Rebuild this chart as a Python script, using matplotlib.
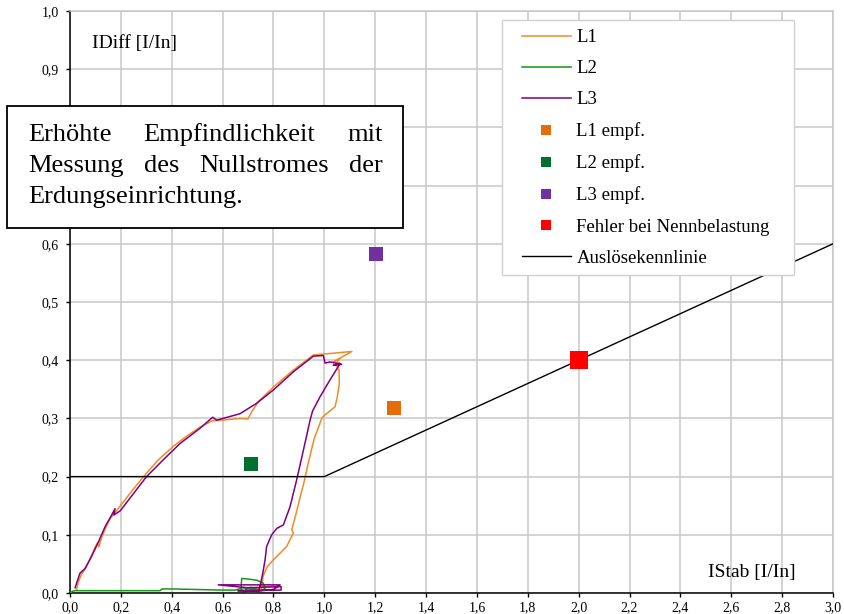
import numpy as np
import matplotlib.pyplot as plt
from matplotlib.lines import Line2D
from matplotlib.patches import Rectangle
from matplotlib.ticker import MultipleLocator, FuncFormatter

plt.rcParams['font.family'] = ['Liberation Serif', 'DejaVu Serif']

# Auslösekennlinie
kenn_x = [0.0, 1.0, 3.0]
kenn_y = [0.2, 0.2, 0.6]

# L1 (orange)
l1_x = [0.026, 0.032, 0.045, 0.062, 0.08, 0.1, 0.108, 0.114, 0.12, 0.14, 0.158, 0.17,
        0.2, 0.25, 0.301, 0.35, 0.406, 0.46, 0.511, 0.56, 0.6, 0.668, 0.699, 0.714,
        0.741, 0.8, 0.878, 0.957, 1.035, 1.108, 1.035, 1.06, 1.045, 1.058, 1.059,
        1.05, 1.042, 1.0, 0.99, 0.96, 0.935, 0.92, 0.905, 0.888, 0.872, 0.878, 0.852,
        0.8, 0.775, 0.76, 0.754, 0.75, 0.72, 0.80, 0.82, 0.76, 0.70]
l1_y = [0.006, 0.018, 0.032, 0.043, 0.06, 0.08, 0.086, 0.079, 0.09, 0.112, 0.128, 0.134,
        0.151, 0.179, 0.206, 0.23, 0.252, 0.27, 0.285, 0.296, 0.297, 0.30, 0.299, 0.311,
        0.329, 0.354, 0.383, 0.409, 0.412, 0.415, 0.397, 0.403, 0.393, 0.382, 0.36,
        0.335, 0.32, 0.305, 0.30, 0.265, 0.22, 0.19, 0.165, 0.135, 0.109, 0.103, 0.08,
        0.057, 0.045, 0.03, 0.015, 0.005, 0.003, 0.006, 0.012, 0.011, 0.004]

# L2 (gruen)
l2_x = [0.0, 0.01, 0.02, 0.2, 0.354, 0.362, 0.40, 0.5, 0.6, 0.65, 0.68, 0.72, 0.745,
        0.70, 0.672, 0.675, 0.70, 0.734, 0.76, 0.767, 0.75, 0.71, 0.69]
l2_y = [0.0, 0.003, 0.004, 0.004, 0.004, 0.007, 0.007, 0.006, 0.005, 0.005, 0.009, 0.006,
        0.003, 0.002, 0.006, 0.025, 0.024, 0.022, 0.017, 0.008, 0.004, 0.01, 0.006]

# L3 (violett)
l3_x = [0.02, 0.03, 0.039, 0.059, 0.085, 0.111, 0.138, 0.164, 0.177, 0.173, 0.197, 0.25,
        0.301, 0.367, 0.433, 0.511, 0.561, 0.577, 0.668, 0.734, 0.80, 0.878, 0.957, 0.996,
        1.003, 1.022, 1.068, 1.035, 1.06, 1.059, 1.022, 0.983, 0.954, 0.944, 0.918, 0.891,
        0.865, 0.839, 0.813, 0.793, 0.773, 0.767, 0.758, 0.747, 0.74, 0.66, 0.83, 0.83,
        0.70, 0.583, 0.826, 0.80, 0.70]
l3_y = [0.009, 0.022, 0.034, 0.042, 0.063, 0.087, 0.114, 0.134, 0.145, 0.134, 0.141, 0.171,
        0.2, 0.229, 0.257, 0.283, 0.302, 0.297, 0.308, 0.326, 0.349, 0.380, 0.407, 0.408,
        0.395, 0.397, 0.393, 0.391, 0.395, 0.392, 0.366, 0.337, 0.313, 0.297, 0.246, 0.194,
        0.148, 0.117, 0.111, 0.1, 0.08, 0.057, 0.034, 0.011, 0.003, 0.004, 0.005, 0.011,
        0.009, 0.014, 0.014, 0.006, 0.002]

# Einzelpunkte
emp_l1 = (1.274, 0.318)
emp_l2 = (0.711, 0.222)
emp_l3 = (1.205, 0.583)
fehler_nenn = (2.0, 0.40)

c_l1, c_l2, c_l3 = '#F38A24', '#129A12', '#800080'
m_l1, m_l2, m_l3 = '#E46C0A', '#00702F', '#7030A0'

W, H = 845, 614
fig = plt.figure(figsize=(W / 100, H / 100), dpi=100)
ax = fig.add_axes([70 / W, 1 - 593 / H, 763 / W, 582 / H])

ax.plot(l1_x, l1_y, color=c_l1, lw=1.1, zorder=3)
ax.plot(l2_x, l2_y, color=c_l2, lw=1.1, zorder=3)
ax.plot(l3_x, l3_y, color=c_l3, lw=1.1, zorder=4)
ax.plot(*emp_l1, ls='none', marker='s', ms=10, color=m_l1, mew=0, zorder=5)
ax.plot(*emp_l2, ls='none', marker='s', ms=10, color=m_l2, mew=0, zorder=5)
ax.plot(*emp_l3, ls='none', marker='s', ms=10, color=m_l3, mew=0, zorder=5)
ax.plot(*fehler_nenn, ls='none', marker='s', ms=13, color='#FF0000', mew=0, zorder=5)
ax.plot(kenn_x, kenn_y, color='black', lw=1.0, zorder=4)

ax.set_xlim(0, 3.0)
ax.set_ylim(0, 1.0)
ax.xaxis.set_major_locator(MultipleLocator(0.2))
ax.yaxis.set_major_locator(MultipleLocator(0.1))
# 0,7 und 0,8 liegen unter dem Textkasten
fmt_y = FuncFormatter(lambda v, p: '' if round(v, 1) in (0.7, 0.8) else f"{v:.1f}".replace('.', ','))
fmt_x = FuncFormatter(lambda v, p: f"{v:.1f}".replace('.', ','))
ax.xaxis.set_major_formatter(fmt_x)
ax.yaxis.set_major_formatter(fmt_y)
ax.tick_params(direction='out', length=3, width=1, labelsize=10, colors='black')
ax.tick_params(axis='y', pad=5)
ax.tick_params(axis='x', pad=3)
ax.grid(True, color='#c8c8c8', lw=1.1)
ax.set_axisbelow(True)
for s in ['top', 'right']:
    ax.spines[s].set_color('#c8c8c8')
    ax.spines[s].set_linewidth(1.1)
for s in ['left', 'bottom']:
    ax.spines[s].set_linewidth(1.1)

ax.text(0.086, 0.945, 'IDiff [I/In]', fontsize=14, va='center', ha='left')
ax.text(2.507, 0.036, 'IStab [I/In]', fontsize=14, va='center', ha='left')

# Textkasten
fig.add_artist(Rectangle((7 / W, 1 - 228 / H), 396 / W, 122 / H, transform=fig.transFigure,
                         facecolor='white', edgecolor='black', lw=1.3, zorder=10))
lines = [(['Erhöhte', 'Empfindlichkeit', 'mit'], 135, False),
         (['Messung', 'des', 'Nullstromes', 'der'], 166, False),
         (['Erdungseinrichtung.'], 197, True)]
renderer = fig.canvas.get_renderer()
x0, x1 = 28, 383
for words, py, last in lines:
    texts = [fig.text(0, 1 - py / H, w, fontsize=19, va='center', ha='left', zorder=11)
             for w in words]
    widths = [t.get_window_extent(renderer).width for t in texts]
    gap = 0 if last else (x1 - x0 - sum(widths)) / (len(words) - 1)
    x = x0
    for t, wd in zip(texts, widths):
        t.set_x(x / W)
        x += wd + gap

# Legende
fig.add_artist(Rectangle((502 / W, 1 - 275 / H), 292 / W, 255 / H, transform=fig.transFigure,
                         facecolor='white', edgecolor='#d0d0d0', lw=1.0, zorder=9))
handles = [Line2D([], [], color=c_l1, lw=1.1),
           Line2D([], [], color=c_l2, lw=1.1),
           Line2D([], [], color=c_l3, lw=1.1),
           Line2D([], [], ls='none', marker='s', ms=7, mew=0, color=m_l1),
           Line2D([], [], ls='none', marker='s', ms=7, mew=0, color=m_l2),
           Line2D([], [], ls='none', marker='s', ms=7, mew=0, color=m_l3),
           Line2D([], [], ls='none', marker='s', ms=7, mew=0, color='#FF0000'),
           Line2D([], [], color='black', lw=1.0)]
labels = ['L1', 'L2', 'L3', 'L1 empf.', 'L2 empf.', 'L3 empf.',
          'Fehler bei Nennbelastung', 'Auslösekennlinie']
leg = fig.legend(handles, labels, loc='upper left', bbox_to_anchor=(522 / W, 1 - 29 / H),
                 frameon=False, borderpad=0, borderaxespad=0, fontsize=13.5,
                 handlelength=2.6, handletextpad=0.3, labelspacing=0.75)
leg.set_zorder(12)

fig.savefig('out.png', dpi=100)
